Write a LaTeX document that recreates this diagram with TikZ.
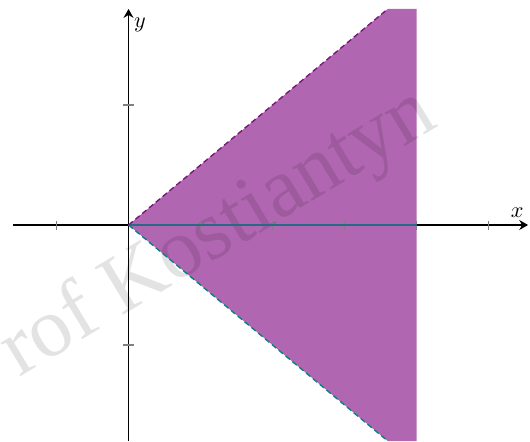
\documentclass[tikz,border=0pt]{standalone}
\usepackage{fontspec}
\newfontfamily\wmfont{Liberation Serif}
\usepackage{tikz}
\usetikzlibrary{arrows.meta}
\definecolor{regfill}{RGB}{177,102,177}
\definecolor{upline}{RGB}{120,20,120}
\definecolor{lowline}{RGB}{0,128,128}
\definecolor{midline}{RGB}{40,105,135}

\begin{document}
\begin{tikzpicture}[x=32.4pt,y=27pt,axis/.style={-{Stealth[length=4pt,width=4.5pt]},line width=0.6pt},tick/.style={gray,line width=0.5pt},bound/.style={dashed,dash pattern=on 2.5pt off 1.5pt,line width=0.6pt}]
\useasboundingbox (-1.785,-3.6) rectangle (5.576,3.75);
\coordinate (O) at (0,0);
\coordinate (top) at (3.6,3.6);\coordinate (bot) at (3.6,-3.6);
\coordinate (tr) at (4,3.6);\coordinate (br) at (4,-3.6);\coordinate (xend) at (4,0);
\fill[regfill] (O)--(top)--(tr)--(br)--(bot)--cycle;
\node[rotate=31,font=\wmfont\fontsize{38}{38}\selectfont,text=black,text opacity=0.11] (wmark) at (0.97,-0.35) {Prof Kostiantyn};
\draw[axis] (-1.6,0)--(5.55,0);
\draw[axis] (0,-3.6)--(0,3.6);
\foreach \i in {-1,1,2,3,4,5} \draw[tick] (\i,-0.075)--(\i,0.075);
\foreach \j in {-2,2} \draw[tick] (-0.07,\j)--(0.07,\j);
\draw[midline,line width=0.6pt] (O)--(xend);
\draw[bound,upline] (O)--(top);
\draw[bound,lowline] (O)--(bot);
\node (xlab) at (5.40,0.2) {$x$};
\node (ylab) at (0.16,3.33) {$y$};
\end{tikzpicture}
\end{document}
